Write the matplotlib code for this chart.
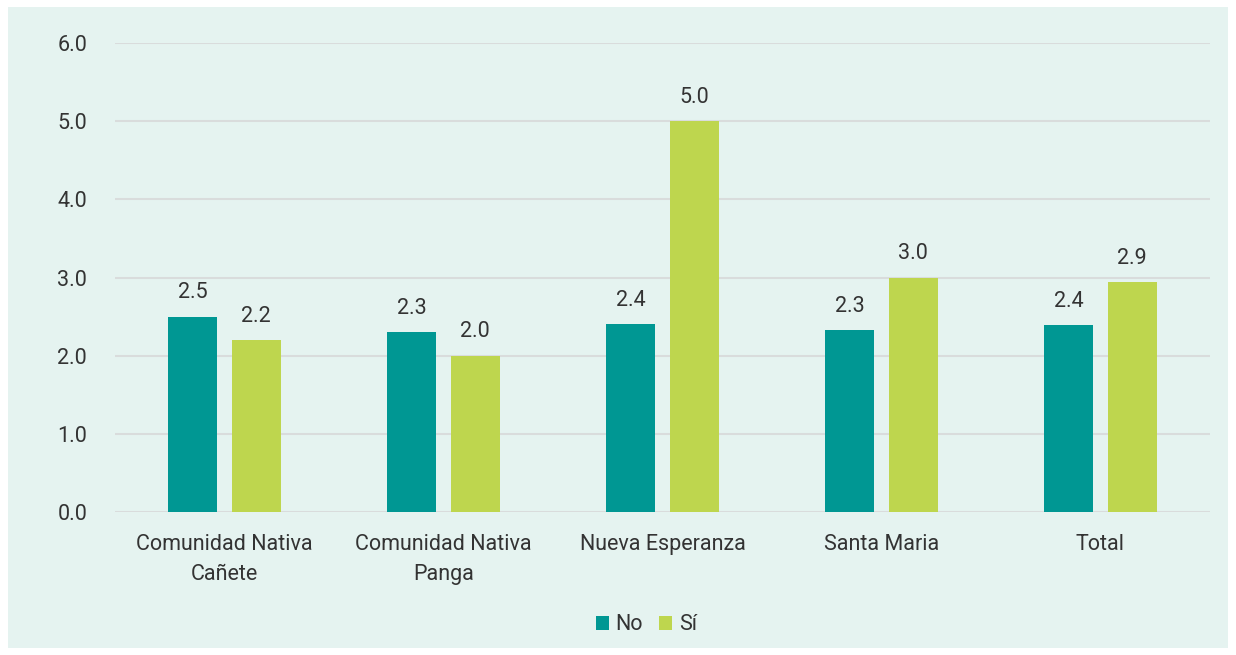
import numpy as np
import matplotlib.pyplot as plt

categories = ["Comunidad Nativa\nCañete", "Comunidad Nativa\nPanga", "Nueva Esperanza",
              "Santa Maria", "Total"]
no_values = [2.5, 2.3, 2.4, 2.33, 2.39]
si_values = [2.2, 2.0, 5.0, 3.0, 2.94]
no_labels = ["2.5", "2.3", "2.4", "2.3", "2.4"]
si_labels = ["2.2", "2.0", "5.0", "3.0", "2.9"]
yticks = [0, 1, 2, 3, 4, 5, 6]

TEAL = "#009793"
LIME = "#BED64E"
BG = "#E5F3F0"
TXT = "#333333"
FS = 15.5

plt.rcParams['font.family'] = ['Roboto', 'DejaVu Sans']

fig = plt.figure(figsize=(12.36, 6.55), dpi=100)
fig.patch.set_facecolor("white")
fig.patches.append(plt.Rectangle((8 / 1236, 7 / 655), 1220 / 1236, 641 / 655,
                                 transform=fig.transFigure, facecolor=BG,
                                 edgecolor="none", zorder=-10))

ax = fig.add_axes([115 / 1236, 1 - 512 / 655, 1095 / 1236, (512 - 43) / 655])
ax.set_facecolor("none")
ax.set_zorder(1)

x = np.arange(len(categories))
w = 0.224
off = 0.144
b1 = ax.bar(x - off, no_values, w, color=TEAL, label="No", zorder=3)
b2 = ax.bar(x + off, si_values, w, color=LIME, label="Sí", zorder=3)

for bars, labs in ((b1, no_labels), (b2, si_labels)):
    for rect, lab in zip(bars, labs):
        ax.text(rect.get_x() + rect.get_width() / 2, rect.get_height() + 0.17, lab,
                ha="center", va="bottom", fontsize=FS, color=TXT)

ax.set_xlim(-0.5, len(categories) - 0.5)
ax.set_ylim(0, 6)
ax.set_yticks(yticks)
ax.set_yticklabels([f"{v:.1f}" for v in yticks])
ax.yaxis.grid(True, color="#D9DCDC", linewidth=1.5, zorder=0)
ax.set_axisbelow(True)
for s in ax.spines.values():
    s.set_visible(False)
ax.tick_params(axis="y", length=0, pad=20, labelsize=FS, labelcolor=TXT)
ax.tick_params(axis="x", length=0, pad=16, labelsize=FS, labelcolor=TXT)
ax.set_xticks(x)
ax.set_xticklabels(categories, linespacing=1.55)

fig.legend(handles=[b1, b2], labels=["No", "Sí"], loc="center",
           bbox_to_anchor=(0.523, 1 - 625 / 655), ncol=2, frameon=False,
           fontsize=FS, handlelength=0.6, handleheight=0.6, handletextpad=0.33,
           columnspacing=0.75, labelcolor=TXT)

fig.savefig("out.png", dpi=100, facecolor="white")
